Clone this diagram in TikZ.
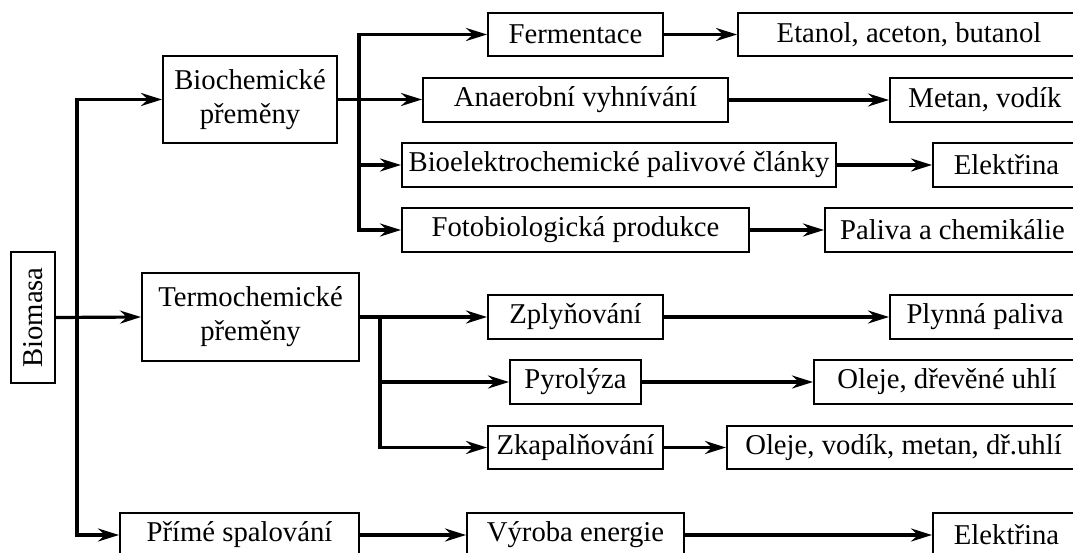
\documentclass[tikz,border=0pt]{standalone}
\usepackage{fontspec}
\setmainfont{Liberation Serif}
\usetikzlibrary{arrows.meta}
\begin{document}
\begin{tikzpicture}[x=1pt,y=-1pt,
  box/.style={draw=black, line width=2pt, inner sep=0pt, align=center,
    font=\fontsize{28.7}{34}\selectfont, fill=white},
  conn/.style={draw=black, line width=3.2pt},
  arr/.style={conn, -{Stealth[length=21pt,width=13pt,inset=7pt]}}]
\clip (0,0) rectangle (1073,553);
\fill[white] (0,0) rectangle (1073,553);
% level 0/1
\node[box, rotate=90, minimum width=131pt, minimum height=44pt] (biomasa) at (33,317.5) {Biomasa};
\node[box, minimum width=174pt, minimum height=87pt] (bioch) at (250,99.5) {Biochemické\\přeměny};
\node[box, minimum width=217pt, minimum height=88pt] (termo) at (250.5,317) {Termochemické\\přeměny};
\node[box, minimum width=239pt, minimum height=44pt] (prime) at (239.5,535) {Přímé spalování};
% biochemical
\node[box, minimum width=175pt, minimum height=43pt] (ferm) at (575.5,34.5) {Fermentace};
\node[box, minimum width=342pt, minimum height=43pt] (etanol) at (909,34.5) {Etanol, aceton, butanol};
\node[box, minimum width=305pt, minimum height=44pt] (anaer) at (575.5,100) {Anaerobní vyhnívání};
\node[box, minimum width=190pt, minimum height=44pt] (metan) at (985,100) {Metan, vodík};
\node[box, minimum width=434pt, minimum height=44pt] (bioel) at (619,165) {Bioelektrochemické palivové články};
\node[box, minimum width=147pt, minimum height=44pt] (elek1) at (1006.5,165) {Elektřina};
\node[box, minimum width=347pt, minimum height=44pt] (foto) at (575.5,230) {Fotobiologická produkce};
\node[box, minimum width=255pt, minimum height=44pt] (paliva) at (952.5,230) {Paliva a chemikálie};
% thermochemical
\node[box, minimum width=175pt, minimum height=44pt] (zply) at (575.5,317) {Zplyňování};
\node[box, minimum width=190pt, minimum height=44pt] (plyn) at (985,317) {Plynná paliva};
\node[box, minimum width=131pt, minimum height=44pt] (pyro) at (575.5,382) {Pyrolýza};
\node[box, minimum width=266pt, minimum height=44pt] (oleje1) at (947,382) {Oleje, dřevěné uhlí};
\node[box, minimum width=175pt, minimum height=43pt] (zkap) at (575.5,447.5) {Zkapalňování};
\node[box, minimum width=353pt, minimum height=43pt] (oleje2) at (903.5,447.5) {Oleje, vodík, metan, dř.uhlí};
% direct combustion
\node[box, minimum width=217pt, minimum height=44pt] (vyroba) at (575.5,535) {Výroba energie};
\node[box, minimum width=147pt, minimum height=44pt] (elek2) at (1006.5,535) {Elektřina};
% junctions
\coordinate (j1) at (77,317);
\coordinate (j2) at (359,99.5);
\coordinate (j3) at (380,317);
% connectors from Biomasa
\draw[arr] (biomasa.south) -- (termo.west);
\draw[arr] (j1) |- (bioch.west);
\draw[arr] (j1) |- (prime.west);
% biochemical branch
\draw[arr] (bioch.east) -- (anaer.west |- bioch.east);
\draw[arr] (j2) |- (ferm.west);
\draw[arr] (j2) |- (bioel.west);
\draw[arr] (j2) |- (foto.west);
% thermochemical branch
\draw[arr] (termo.east) -- (zply.west);
\draw[arr] (j3) |- (pyro.west);
\draw[arr] (j3) |- (zkap.west);
% products
\draw[arr] (ferm.east) -- (etanol.west);
\draw[arr] (anaer.east) -- (metan.west);
\draw[arr] (bioel.east) -- (elek1.west);
\draw[arr] (foto.east) -- (paliva.west);
\draw[arr] (zply.east) -- (plyn.west);
\draw[arr] (pyro.east) -- (oleje1.west);
\draw[arr] (zkap.east) -- (oleje2.west);
\draw[arr] (prime.east) -- (vyroba.west);
\draw[arr] (vyroba.east) -- (elek2.west);
\end{tikzpicture}
\end{document}
